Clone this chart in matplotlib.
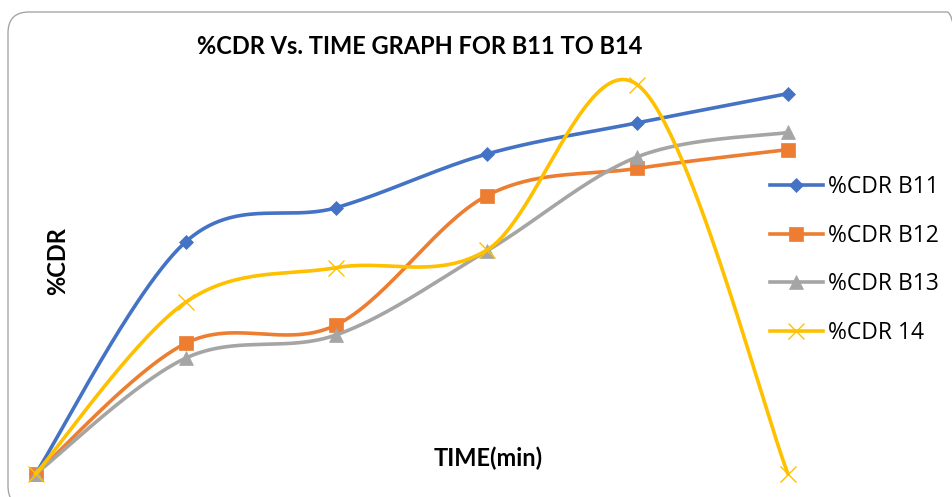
import numpy as np
import matplotlib
matplotlib.use("Agg")
import matplotlib.pyplot as plt
from matplotlib.patches import FancyBboxPatch
from matplotlib.lines import Line2D

# %CDR readings at successive sampling times
time_points = [0, 1, 2, 3, 4, 5]
cdr_b11 = [0.0, 58.1, 66.6, 80.0, 87.8, 95.1]
cdr_b12 = [0.0, 32.7, 37.3, 69.6, 76.4, 81.1]
cdr_b13 = [0.0, 29.0, 34.8, 55.8, 79.3, 85.4]
cdr_b14 = [0.0, 43.0, 51.6, 56.0, 97.3, 0.0]
series_labels = ["%CDR B11", "%CDR B12", "%CDR B13", "%CDR 14"]

colors = ["#4472C4", "#ED7D31", "#A5A5A5", "#FFC000"]
markers = ["D", "s", "^", "x"]
marker_sizes = [7, 10, 10, 11]


def smooth(xs, ys, n=60):
    """Bezier smoothing through every point (Catmull-Rom style tangents)."""
    pts = np.column_stack([xs, ys]).astype(float)
    out = []
    m = len(pts)
    for i in range(m - 1):
        p0 = pts[max(i - 1, 0)]
        p1 = pts[i]
        p2 = pts[i + 1]
        p3 = pts[min(i + 2, m - 1)]
        c1 = p1 + (p2 - p0) / 6.0
        c2 = p2 - (p3 - p1) / 6.0
        t = np.linspace(0, 1, n)[:, None]
        seg = ((1 - t) ** 3) * p1 + 3 * ((1 - t) ** 2) * t * c1 \
            + 3 * (1 - t) * t ** 2 * c2 + t ** 3 * p2
        out.append(seg if i == 0 else seg[1:])
    curve = np.vstack(out)
    return curve[:, 0], curve[:, 1]


W, H = 953, 497
fig = plt.figure(figsize=(W / 100, H / 100), dpi=100)
fig.patch.set_facecolor("white")

# rounded chart-area frame
frame = FancyBboxPatch((8 / W, -10 / H), 960 / W, 495 / H,
                       boxstyle="round,pad=0,rounding_size=0.022",
                       transform=fig.transFigure, facecolor="none",
                       edgecolor="#A6A6A6", linewidth=1.0, zorder=-5,
                       mutation_aspect=W / H)
fig.patches.append(frame)

ax = fig.add_axes([35.5 / W, (H - 474) / H, 752.5 / W, 400 / H])
ax.set_xlim(0, 5)
ax.set_ylim(0, 100)
ax.axis("off")
ax.patch.set_alpha(0)

all_series = [cdr_b11, cdr_b12, cdr_b13, cdr_b14]
for k, (vals, c, mk, ms) in enumerate(zip(all_series, colors, markers, marker_sizes)):
    sx, sy = smooth(time_points, vals)
    ax.plot(sx, sy, color=c, lw=2.6, solid_capstyle="round", clip_on=False,
            zorder=2 + k)
    ax.plot(time_points, vals, linestyle="none", marker=mk, markersize=ms,
            color=c, markeredgecolor=c,
            markeredgewidth=1.0 if mk == "x" else 0.5, clip_on=False,
            zorder=2 + k)

handles = [Line2D([0], [0], color=c, lw=2.6, marker=mk, markersize=ms,
                  markeredgecolor=c, markeredgewidth=1.0 if mk == "x" else 0.5)
           for c, mk, ms in zip(colors, markers, marker_sizes)]
fig.legend(handles, series_labels, loc="upper left",
           bbox_to_anchor=(770 / W, 1 - 175 / H), frameon=False,
           prop={"family": "Open Sans", "size": 16.5},
           handlelength=2.3, handletextpad=0.25, labelspacing=1.07,
           borderaxespad=0, borderpad=0)

label_font = dict(fontsize=17, fontweight="bold", family=["Lato", "DejaVu Sans"])
fig.text(420 / W, 1 - 47 / H, "%CDR Vs. TIME GRAPH FOR B11 TO B14",
         ha="center", va="center", **label_font)
fig.text(58 / W, 1 - 261 / H, "%CDR", rotation=90, ha="center", va="center",
         **label_font)
fig.text(488 / W, 1 - 458 / H, "TIME(min)", ha="center", va="center",
         **label_font)

fig.savefig("out.png", dpi=100, facecolor="white")
